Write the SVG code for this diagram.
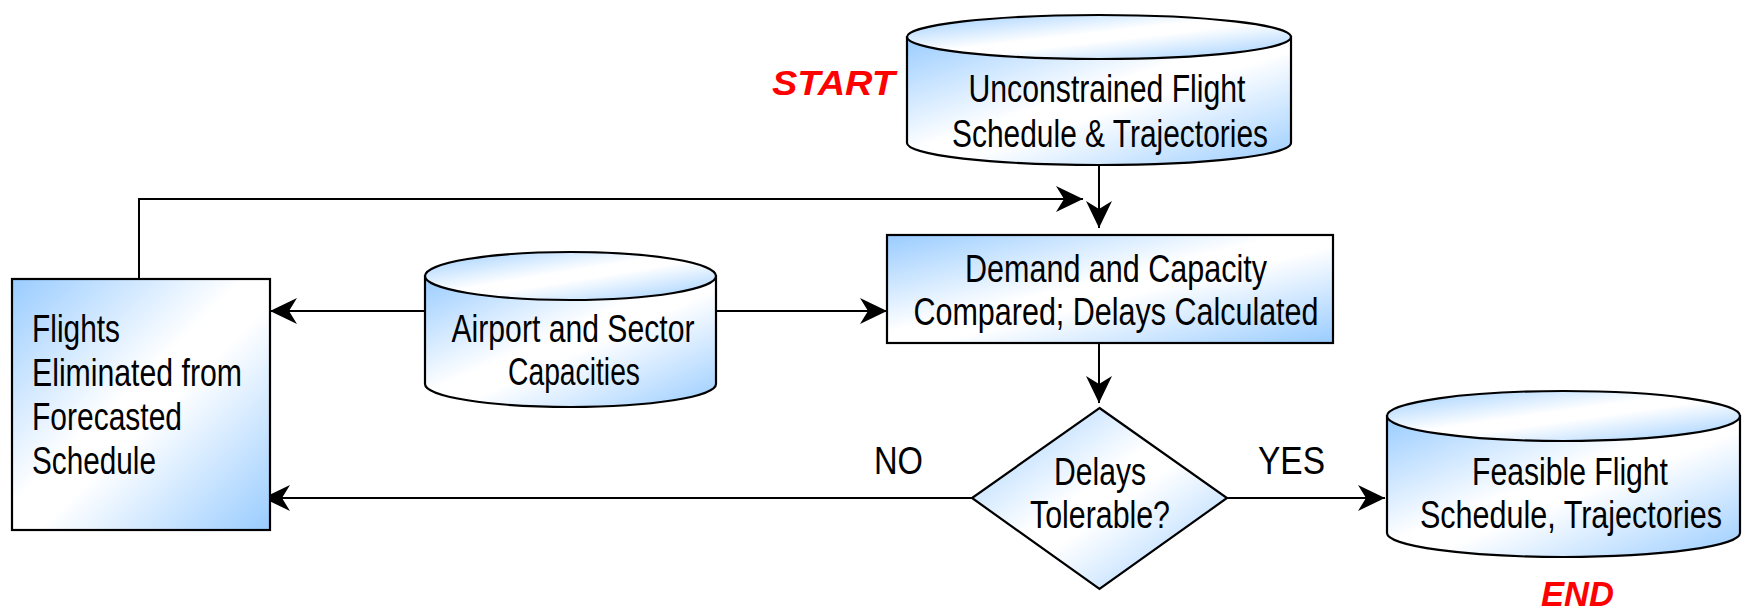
<svg xmlns="http://www.w3.org/2000/svg" width="1747" height="613" viewBox="0 0 1747 613">
<style>
.shape{stroke:#000;stroke-width:2.2;fill:url(#g)}
.t{font-family:"Liberation Sans Narrow","Liberation Sans",Arial,sans-serif;font-size:38px;fill:#000}
.c{text-anchor:middle}
.red{font-family:"Liberation Sans",Arial,sans-serif;font-size:35px;font-weight:bold;font-style:italic;fill:#FF0000}
.conn{stroke:#000;stroke-width:2;fill:none;marker-end:url(#arr)}
</style>
<defs>
<linearGradient id="g" x1="0" y1="0" x2="1" y2="1">
<stop offset="0" stop-color="#99CCFF"/>
<stop offset="0.45" stop-color="#FFFFFF"/>
<stop offset="0.55" stop-color="#FFFFFF"/>
<stop offset="1" stop-color="#99CCFF"/>
</linearGradient>
<marker id="arr" markerUnits="userSpaceOnUse" markerWidth="30" markerHeight="30" viewBox="-28 -14 30 28" refX="0" refY="0" orient="auto">
<path d="M0,0 L-27,-13 L-19,0 L-27,13 Z" fill="#000"/>
</marker>
</defs>

<g id="connectors">
<line class="conn" x1="1099" y1="166" x2="1099" y2="228"/>
<polyline class="conn" points="139,279 139,199 1083,199"/>
<line class="conn" x1="425" y1="311" x2="270" y2="311"/>
<line class="conn" x1="716" y1="311" x2="887" y2="311"/>
<line class="conn" x1="1099" y1="343" x2="1099" y2="403"/>
<line class="conn" x1="973" y1="498" x2="263" y2="498"/>
<line class="conn" x1="1227" y1="498" x2="1385" y2="498"/>
</g>

<g id="start-label">
<text class="red" x="772" y="95" textLength="123" lengthAdjust="spacingAndGlyphs">START</text>
</g>

<g id="node-unconstrained">
<path class="shape" d="M907,37 L907,143 A192,22 0 0 0 1291,143 L1291,37 Z"/>
<ellipse class="shape" cx="1099" cy="37" rx="192" ry="22"/>
<text class="t c" x="1107" y="102" textLength="277" lengthAdjust="spacingAndGlyphs">Unconstrained Flight</text>
<text class="t c" x="1110" y="147" textLength="316" lengthAdjust="spacingAndGlyphs">Schedule &amp; Trajectories</text>
</g>

<g id="node-flights">
<rect class="shape" x="12" y="279" width="258" height="251"/>
<text class="t" x="32" y="342" textLength="88" lengthAdjust="spacingAndGlyphs">Flights</text>
<text class="t" x="32" y="386" textLength="210" lengthAdjust="spacingAndGlyphs">Eliminated from</text>
<text class="t" x="32" y="430" textLength="150" lengthAdjust="spacingAndGlyphs">Forecasted</text>
<text class="t" x="32" y="474" textLength="124" lengthAdjust="spacingAndGlyphs">Schedule</text>
</g>

<g id="node-airport">
<path class="shape" d="M425,276 L425,384 A145.5,23 0 0 0 716,384 L716,276 Z"/>
<ellipse class="shape" cx="570.5" cy="276" rx="145.5" ry="24"/>
<text class="t c" x="573" y="342" textLength="243" lengthAdjust="spacingAndGlyphs">Airport and Sector</text>
<text class="t c" x="574" y="385" textLength="132" lengthAdjust="spacingAndGlyphs">Capacities</text>
</g>

<g id="node-demand">
<rect class="shape" x="887" y="235" width="446" height="108"/>
<text class="t c" x="1116" y="282" textLength="302" lengthAdjust="spacingAndGlyphs">Demand and Capacity</text>
<text class="t c" x="1116" y="325" textLength="405" lengthAdjust="spacingAndGlyphs">Compared; Delays Calculated</text>
</g>

<g id="node-decision">
<polygon class="shape" points="1099.5,408 1227,498 1099.5,589 972,498"/>
<text class="t c" x="1100" y="485" textLength="92" lengthAdjust="spacingAndGlyphs">Delays</text>
<text class="t c" x="1100" y="528" textLength="140" lengthAdjust="spacingAndGlyphs">Tolerable?</text>
</g>

<g id="label-no">
<text class="t" x="874" y="474" textLength="49" lengthAdjust="spacingAndGlyphs">NO</text>
</g>
<g id="label-yes">
<text class="t" x="1258" y="474" textLength="67" lengthAdjust="spacingAndGlyphs">YES</text>
</g>

<g id="node-feasible">
<path class="shape" d="M1387,416 L1387,533 A176.5,24 0 0 0 1740,533 L1740,416 Z"/>
<ellipse class="shape" cx="1563.5" cy="416" rx="176.5" ry="25"/>
<text class="t c" x="1570" y="485" textLength="196" lengthAdjust="spacingAndGlyphs">Feasible Flight</text>
<text class="t c" x="1571" y="528" textLength="302" lengthAdjust="spacingAndGlyphs">Schedule, Trajectories</text>
</g>

<g id="end-label">
<text class="red" x="1541" y="606" textLength="73" lengthAdjust="spacingAndGlyphs">END</text>
</g>
</svg>
